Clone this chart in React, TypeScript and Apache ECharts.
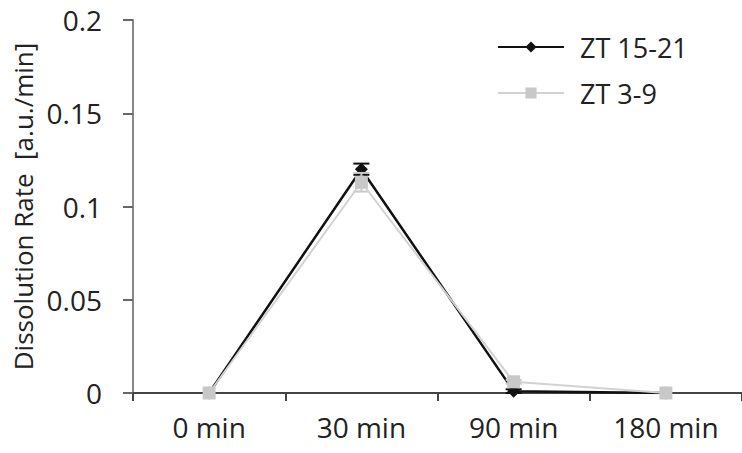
import React, { useEffect, useRef } from "react";
import * as echarts from "echarts";

const categories = ["0 min", "30 min", "90 min", "180 min"];
const zt1521 = [0, 0.12, 0.001, 0];
const zt1521Err = [0, 0.003, 0.001, 0];
const zt39 = [0, 0.113, 0.006, 0];
const zt39Err = [0, 0.005, 0.001, 0];
const yTicks = { min: 0, max: 0.2, interval: 0.05 };

const FONT = "Open Sans";

function errorSeries(values: number[], errs: number[], color: string, z: number) {
  return {
    type: "custom",
    name: "err",
    z,
    silent: true,
    data: values.map((v, i) => [i, v, errs[i]]),
    renderItem: (params: any, api: any) => {
      const i = api.value(0);
      const v = api.value(1);
      const e = api.value(2);
      if (!e) return null;
      const top = api.coord([i, v + e]);
      const bot = api.coord([i, v - e]);
      const w = 8;
      const style = { stroke: color, lineWidth: 2 };
      return {
        type: "group",
        children: [
          { type: "line", shape: { x1: top[0], y1: top[1], x2: bot[0], y2: bot[1] }, style },
          { type: "line", shape: { x1: top[0] - w, y1: top[1], x2: top[0] + w, y2: top[1] }, style },
          { type: "line", shape: { x1: bot[0] - w, y1: bot[1], x2: bot[0] + w, y2: bot[1] }, style },
        ],
      };
    },
  };
}

export default function App() {
  const ref = useRef<HTMLDivElement>(null);
  useEffect(() => {
    if (!ref.current) return;
    const chart = echarts.init(ref.current, null, { renderer: "svg" });
    chart.setOption({
      animation: false,
      backgroundColor: "#ffffff",
      textStyle: { fontFamily: FONT },
      legend: {
        orient: "vertical",
        left: 492,
        top: 28,
        itemWidth: 66,
        itemHeight: 14,
        itemGap: 18,
        data: ["ZT 15-21", "ZT 3-9"],
        textStyle: { fontFamily: FONT, fontSize: 27, color: "#222", lineHeight: 28, padding: [0, 0, 0, 11] },
      },
      grid: { left: 133, right: -7, top: 20, bottom: 60, containLabel: false },
      xAxis: {
        type: "category",
        data: categories,
        boundaryGap: true,
        axisLine: { lineStyle: { color: "#444", width: 2 } },
        axisTick: { show: true, inside: false, length: 8, lineStyle: { color: "#444", width: 2 } },
        axisLabel: { fontFamily: FONT, fontSize: 28, color: "#222", margin: 20 },
      },
      yAxis: {
        type: "value",
        min: yTicks.min,
        max: yTicks.max,
        interval: yTicks.interval,
        name: "Dissolution Rate  [a.u./min]",
        nameLocation: "middle",
        nameGap: 96,
        nameTextStyle: { fontFamily: FONT, fontSize: 26, color: "#222" },
        axisLine: { show: true, lineStyle: { color: "#888", width: 2 } },
        axisTick: { show: true, inside: false, length: 10, lineStyle: { color: "#666", width: 2 } },
        splitLine: { show: false },
        axisLabel: { fontFamily: FONT, fontSize: 28, color: "#222", margin: 31 },
      },
      series: [
        errorSeries(zt1521, zt1521Err, "#111", 1),
        {
          name: "ZT 15-21",
          type: "line",
          data: zt1521,
          symbol: "diamond",
          symbolSize: 13,
          z: 2,
          lineStyle: { color: "#111", width: 2.5 },
          itemStyle: { color: "#111" },
        },
        errorSeries(zt39, zt39Err, "#c8c8c8", 3),
        {
          name: "ZT 3-9",
          type: "line",
          data: zt39,
          symbol: "rect",
          symbolSize: 13,
          z: 4,
          lineStyle: { color: "#d2d2d2", width: 2 },
          itemStyle: { color: "#c8c8c8" },
        },
      ],
    });
    return () => chart.dispose();
  }, []);
  return (
    <div
      ref={ref}
      style={{ position: "fixed", left: 0, top: 0, width: 742, height: 453 }}
    />
  );
}
